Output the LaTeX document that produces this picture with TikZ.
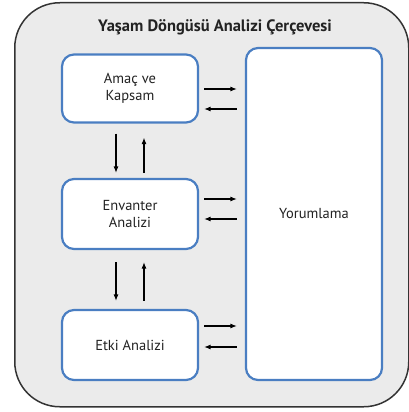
\documentclass[tikz,border=0pt]{standalone}
\usepackage{fontspec}
\setmainfont{PT Sans}
\usetikzlibrary{arrows.meta}
\definecolor{bgray}{HTML}{EBEBEB}
\definecolor{frame}{HTML}{333333}
\definecolor{bblue}{HTML}{4A7EC2}
\definecolor{txt}{HTML}{222222}
\tikzset{
  stagebox/.style={draw=bblue, line width=2.2pt, fill=white, rounded corners=12pt, text=txt, font=\fontsize{14.5}{17.5}\selectfont, align=center},
  flow/.style={line width=1.2pt, -{Latex[length=6.5pt,width=5pt]}}
}
\begin{document}
\begin{tikzpicture}[x=1pt,y=-1pt]
\useasboundingbox (0,0) rectangle (409,412);
\node[draw=frame, line width=1.5pt, fill=bgray, rounded corners=45pt, minimum width=394pt, minimum height=404pt, anchor=north west] (outer) at (14,2) {};
\node[font=\bfseries\fontsize{16.5}{19}\selectfont, text=txt] (title) at (215,27) {Yaşam Döngüsü Analizi Çerçevesi};
\node[stagebox, minimum width=136pt, minimum height=68pt] (amac) at (130,88.5) {Amaç ve\\Kapsam};
\node[stagebox, minimum width=136pt, minimum height=70pt] (env) at (130,214) {Envanter\\Analizi};
\node[stagebox, minimum width=136pt, minimum height=70pt] (etki) at (130,345) {Etki Analizi};
\node[stagebox, minimum width=136pt, minimum height=332pt] (yor) at (314,214) {Yorumlama};
% horizontal
\draw[flow] ([xshift=5pt]amac.east |- 0,89) -- ([xshift=-8pt]yor.west |- 0,89);
\draw[flow] ([xshift=-8pt]yor.west |- 0,109) -- ([xshift=5pt]amac.east |- 0,109);
\draw[flow] ([xshift=5pt]env.east |- 0,199) -- ([xshift=-8pt]yor.west |- 0,199);
\draw[flow] ([xshift=-8pt]yor.west |- 0,219) -- ([xshift=5pt]env.east |- 0,219);
\draw[flow] ([xshift=5pt]etki.east |- 0,326) -- ([xshift=-8pt]yor.west |- 0,326);
\draw[flow] ([xshift=-8pt]yor.west |- 0,347) -- ([xshift=5pt]etki.east |- 0,347);
% vertical
\draw[flow] ([yshift=-10pt]amac.south -| 116,0) -- ([yshift=5pt]env.north -| 116,0);
\draw[flow] ([yshift=5pt]env.north -| 144,0) -- ([yshift=-14pt]amac.south -| 144,0);
\draw[flow] ([yshift=-12pt]env.south -| 116,0) -- ([yshift=8pt]etki.north -| 116,0);
\draw[flow] ([yshift=8pt]etki.north -| 144,0) -- ([yshift=-12pt]env.south -| 144,0);
\end{tikzpicture}
\end{document}
